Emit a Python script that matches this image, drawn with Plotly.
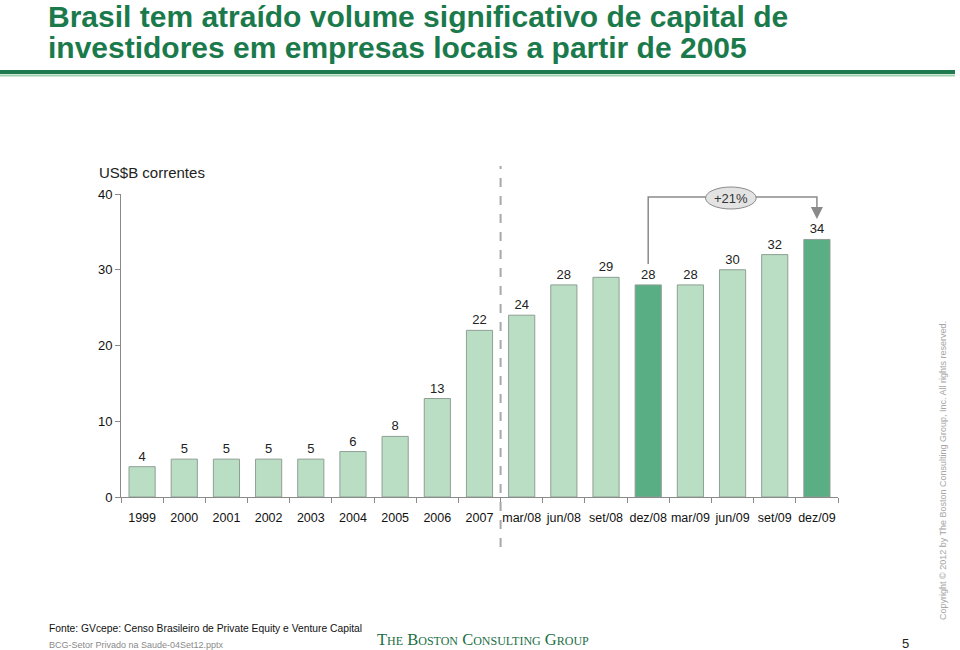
import plotly.graph_objects as go

categories = ["1999", "2000", "2001", "2002", "2003", "2004", "2005", "2006", "2007",
              "mar/08", "jun/08", "set/08", "dez/08", "mar/09", "jun/09", "set/09", "dez/09"]
values = [4, 5, 5, 5, 5, 6, 8, 13, 22, 24, 28, 29, 28, 28, 30, 32, 34]
highlight = ["dez/08", "dez/09"]
y_ticks = [0, 10, 20, 30, 40]
growth_label = "+21%"

LIGHT = "#b9dec4"
DARK = "#5aae84"
GREEN_T = "#1b7a4c"
AX = "#8a8a8a"

W, H = 960, 650
L, R, T, B = 121, 838, 194, 497


def px(x):
    return (x - L) / (R - L)


def py(y):
    return (B - y) / (B - T)


colors = [DARK if c in highlight else LIGHT for c in categories]

fig = go.Figure()
fig.add_trace(go.Bar(
    x=categories, y=values,
    marker=dict(color=colors, line=dict(color="#8f9f94", width=1)),
    text=[str(v) for v in values], textposition="outside",
    textfont=dict(size=13, color="#222", family="Liberation Sans, Arial"),
    cliponaxis=False, width=0.62, hoverinfo="skip",
))

shapes = []
annotations = []

# title rules
shapes.append(dict(type="line", xref="paper", yref="paper", x0=px(0), x1=px(955),
                   y0=py(72), y1=py(72), line=dict(color="#1f7a4f", width=4)))
shapes.append(dict(type="line", xref="paper", yref="paper", x0=px(0), x1=px(955),
                   y0=py(75.5), y1=py(75.5), line=dict(color="#9fd0ae", width=2)))

# dashed separator between 2007 and mar/08
sep = categories.index("mar/08") - 0.5
shapes.append(dict(type="line", xref="x", yref="paper", x0=sep, x1=sep,
                   y0=py(547), y1=py(166), line=dict(color="#a8a8a8", width=2, dash="dash")))

# growth bracket
i0 = categories.index("dez/08")
i1 = categories.index("dez/09")
ytop = py(197)
shapes.append(dict(type="path", xref="x", yref="paper",
                   path=f"M {i0},{py(264)} L {i0},{ytop} L {i1},{ytop} L {i1},{py(214)}",
                   line=dict(color=AX, width=1.5)))
annotations.append(dict(x=i1, y=py(219), xref="x", yref="paper", ax=0, ay=-8,
                        showarrow=True, arrowhead=2, arrowsize=1.6, arrowwidth=1.5,
                        arrowcolor=AX, text=""))
xc = (i0 + i1) / 2 - 0.04
shapes.append(dict(type="circle", xref="x", yref="paper", x0=xc - 0.6, x1=xc + 0.6,
                   y0=py(209), y1=py(187), fillcolor="#e3e3e3",
                   line=dict(color="#8a8a8a", width=1)))
annotations.append(dict(x=xc, y=py(198), xref="x", yref="paper", text=growth_label,
                        showarrow=False, xanchor="center", yanchor="middle",
                        font=dict(size=13, color="#333")))

# titles
tfont = dict(size=30, color=GREEN_T, family="Liberation Sans Narrow, Arial Narrow, Liberation Sans")
annotations.append(dict(x=px(46), y=py(17), xref="paper", yref="paper", xanchor="left",
                        yanchor="middle", showarrow=False,
                        text="<b>Brasil tem atraído volume significativo de capital de</b>", font=tfont))
annotations.append(dict(x=px(46), y=py(48), xref="paper", yref="paper", xanchor="left",
                        yanchor="middle", showarrow=False,
                        text="<b>investidores em empresas locais a partir de 2005</b>", font=tfont))

annotations.append(dict(x=px(97), y=py(172), xref="paper", yref="paper", xanchor="left",
                        yanchor="middle", showarrow=False, text="US$B correntes",
                        font=dict(size=15, color="#222", family="Liberation Sans, Arial")))

# footer
annotations.append(dict(x=px(47), y=py(628), xref="paper", yref="paper", xanchor="left",
                        yanchor="middle", showarrow=False,
                        text="Fonte: GVcepe: Censo Brasileiro de Private Equity e Venture Capital",
                        font=dict(size=10.3, color="#111", family="Liberation Sans, Arial")))
annotations.append(dict(x=px(47), y=py(645), xref="paper", yref="paper", xanchor="left",
                        yanchor="middle", showarrow=False,
                        text="BCG-Setor Privado na Saude-04Set12.pptx",
                        font=dict(size=9, color="#8a8a8a", family="Liberation Sans, Arial")))
sc = "<span style='font-size:12px'>"
logo = (f"T{sc}HE</span> B{sc}OSTON</span> C{sc}ONSULTING</span> G{sc}ROUP</span>")
annotations.append(dict(x=px(375), y=py(639), xref="paper", yref="paper", xanchor="left",
                        yanchor="middle", showarrow=False, text=logo,
                        font=dict(size=16.5, color="#1b6e45", family="Liberation Serif, Times New Roman")))
annotations.append(dict(x=px(905), y=py(643), xref="paper", yref="paper", xanchor="center",
                        yanchor="middle", showarrow=False, text="5",
                        font=dict(size=13, color="#222", family="Liberation Sans, Arial")))
annotations.append(dict(x=px(943), y=py(471), xref="paper", yref="paper", xanchor="center",
                        yanchor="middle", showarrow=False, textangle=-90,
                        text="Copyright © 2012 by The Boston Consulting Group, Inc. All rights reserved.",
                        font=dict(size=9, color="#a5a5a5", family="Liberation Sans, Arial")))

fig.update_layout(
    width=W, height=H,
    margin=dict(l=L, r=W - R, t=T, b=H - B, pad=0),
    paper_bgcolor="white", plot_bgcolor="white",
    showlegend=False, bargap=0.38,
    shapes=shapes, annotations=annotations,
    font=dict(family="Liberation Sans, Arial", color="#222"),
    xaxis=dict(type="category", showgrid=False, showline=True, linecolor=AX, linewidth=1,
               ticks="outside", tickson="boundaries", ticklen=5, tickcolor=AX, tickangle=0,
               tickfont=dict(size=12.5, color="#111"), range=[-0.5, len(categories) - 0.5],
               ticklabelstandoff=9, fixedrange=True),
    yaxis=dict(range=[0, 40], tickvals=y_ticks, showgrid=False, zeroline=False,
               showline=True, linecolor=AX, linewidth=1, ticks="outside", ticklen=5,
               tickcolor=AX, tickfont=dict(size=13, color="#111"), fixedrange=True,
               ticklabelstandoff=0),
)

fig.write_html("out.html", config={"displayModeBar": False})
with open("out.html", "r", encoding="utf-8") as f:
    html = f.read()
html = html.replace("<head>", "<head><style>html,body{margin:0;padding:0;overflow:hidden;}</style>", 1)
with open("out.html", "w", encoding="utf-8") as f:
    f.write(html)
